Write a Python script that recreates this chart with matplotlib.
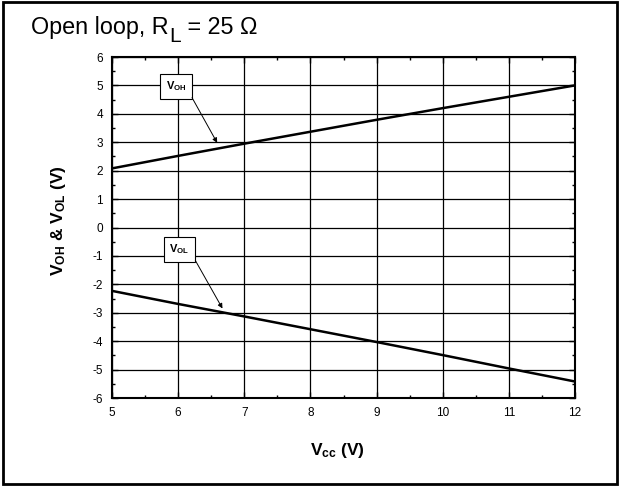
import matplotlib
matplotlib.use('Agg')
import matplotlib.pyplot as plt
from matplotlib.patches import Rectangle
from matplotlib.ticker import MultipleLocator

plt.rcParams['font.family'] = ['Liberation Sans', 'DejaVu Sans']
plt.rcParams['mathtext.fontset'] = 'custom'
plt.rcParams['mathtext.rm'] = 'Liberation Sans'
plt.rcParams['mathtext.bf'] = 'Liberation Sans:bold'
plt.rcParams['mathtext.it'] = 'Liberation Sans:italic'
plt.rcParams['axes.unicode_minus'] = False

# datos
vcc = [5, 6, 7, 8, 9, 10, 11, 12]
voh = [2.08, 2.52, 2.95, 3.37, 3.79, 4.20, 4.60, 5.00]
vol = [-2.23, -2.69, -3.13, -3.58, -4.03, -4.49, -4.96, -5.42]

x_ticks = [5, 6, 7, 8, 9, 10, 11, 12]
y_ticks = [-6, -5, -4, -3, -2, -1, 0, 1, 2, 3, 4, 5, 6]

etiqueta_x = r'$\mathbf{V_{cc}}$ (V)'
etiqueta_y = r'$\mathbf{V_{OH}}$ & $\mathbf{V_{OL}}$ (V)'

fig = plt.figure(figsize=(6.19, 4.86), dpi=100)
ax = fig.add_axes([112 / 619, 1 - 398 / 486, 463 / 619, 341 / 486])

ax.plot(vcc, voh, color='black', lw=1.8, solid_capstyle='butt')
ax.plot(vcc, vol, color='black', lw=1.8, solid_capstyle='butt')

ax.set_xlim(x_ticks[0], x_ticks[-1])
ax.set_ylim(y_ticks[0], y_ticks[-1])
ax.set_xticks(x_ticks)
ax.set_yticks(y_ticks)
ax.xaxis.set_minor_locator(MultipleLocator(0.5))
ax.yaxis.set_minor_locator(MultipleLocator(0.5))
ax.tick_params(which='both', direction='in', top=True, right=True,
               labelsize=8.5, pad=6.5, width=1)
ax.tick_params(which='major', length=4)
ax.tick_params(which='minor', length=2.5)
ax.grid(which='major', color='black', lw=0.9)
ax.set_axisbelow(True)
for s in ax.spines.values():
    s.set_linewidth(1.5)

# cajas de etiquetas con flecha
caja = dict(boxstyle='square,pad=0.5', fc='white', ec='black', lw=0.8)
ax.text(5.97, 4.96, r'$\mathbf{V_{OH}}$', fontsize=8, ha='center', va='center', bbox=caja)
ax.annotate('', xy=(6.59, 2.98), xytext=(6.21, 4.57),
            arrowprops=dict(arrowstyle='-|>', lw=0.7, color='black', mutation_scale=7,
                            shrinkA=0, shrinkB=0))
ax.text(6.02, -0.77, r'$\mathbf{V_{OL}}$', fontsize=8, ha='center', va='center', bbox=caja)
ax.annotate('', xy=(6.67, -2.85), xytext=(6.26, -1.16),
            arrowprops=dict(arrowstyle='-|>', lw=0.7, color='black', mutation_scale=7,
                            shrinkA=0, shrinkB=0))

# titulo en tres partes (subindice L casi del mismo tamano)
base_y = 1 - 34 / 486
t1 = fig.text(31 / 619, base_y, 'Open loop, R', fontsize=16.8, ha='left', va='baseline')
t2 = ax.annotate('L', xy=(1, base_y), xycoords=(t1, 'figure fraction'),
                 xytext=(0.5, -6), textcoords='offset points',
                 fontsize=15, ha='left', va='baseline', annotation_clip=False)
ax.annotate(' = 25 \u03a9', xy=(1, base_y), xycoords=(t2, 'figure fraction'),
            fontsize=16.8, ha='left', va='baseline', annotation_clip=False)

fig.text(337 / 619, 1 - 450 / 486, etiqueta_x, fontsize=12.5, fontweight='bold',
         ha='center', va='center')
fig.text(59 / 619, 1 - 221 / 486, etiqueta_y, fontsize=12.5, fontweight='bold',
         ha='center', va='center', rotation=90)

# marco exterior
fig.patches.append(Rectangle((3 / 619, 2 / 486), 614 / 619, 482 / 486, transform=fig.transFigure,
                             fill=False, ec='black', lw=2))

fig.savefig('out.png', dpi=100)
